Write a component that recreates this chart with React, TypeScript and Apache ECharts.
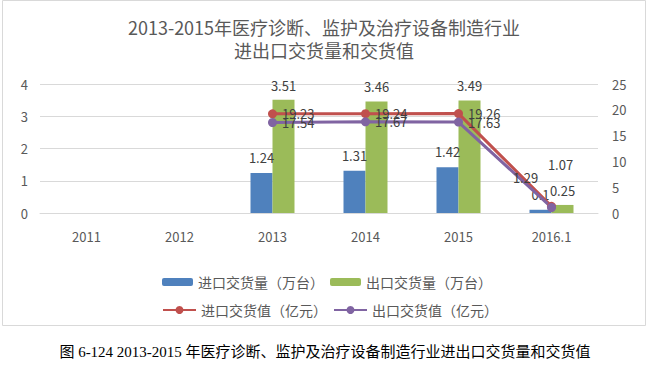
import React, { useEffect, useRef } from "react";
import * as echarts from "echarts";

const categories = ["2011", "2012", "2013", "2014", "2015", "2016.1"];
const importQty = [null, null, 1.24, 1.31, 1.42, 0.1];
const exportQty = [null, null, 3.51, 3.46, 3.49, 0.25];
const importVal = [null, null, 19.23, 19.24, 19.26, 1.29];
const exportVal = [null, null, 17.54, 17.67, 17.63, 1.07];
const leftTicks = { min: 0, max: 4, interval: 1 };
const rightTicks = { min: 0, max: 25, interval: 5 };

const titleLines = ["2013-2015年医疗诊断、监护及治疗设备制造行业", "进出口交货量和交货值"];
const captionText = "图 6-124 2013-2015 年医疗诊断、监护及治疗设备制造行业进出口交货量和交货值";
const names = ["进口交货量（万台）", "出口交货量（万台）", "进口交货值（亿元）", "出口交货值（亿元）"];

const FONT = "'Noto Sans CJK SC', 'Noto Sans', sans-serif";
const labelStyle = { color: "#404040", fontSize: 13, fontFamily: FONT };

export default function App() {
  const ref = useRef<HTMLDivElement>(null);
  useEffect(() => {
    document.body.style.margin = "0";
    const chart = echarts.init(ref.current!, null, { renderer: "svg" });
    const lastIdx = categories.length - 1;
    const lineData = (arr: (number | null)[], offset: number[]) =>
      arr.map((v, i) =>
        i === lastIdx
          ? { value: v, label: { position: "top", offset } }
          : v
      );
    chart.setOption({
      animation: false,
      backgroundColor: "#fff",
      graphic: [
        {
          type: "rect",
          shape: { x: 2.5, y: 0.5, width: 643, height: 325 },
          style: { fill: "none", stroke: "#d9d9d9", lineWidth: 1 },
          silent: true,
        },
        ...titleLines.map((t, i) => ({
          type: "text",
          x: 324,
          y: 27 + i * 23,
          style: {
            text: t,
            fill: "#595959",
            fontSize: 18,
            fontFamily: FONT,
            align: "center",
            verticalAlign: "middle",
          },
        })),
        {
          type: "text",
          x: 325,
          y: 352,
          style: {
            text: captionText,
            fill: "#000",
            fontSize: 15,
            fontFamily: "'Liberation Serif', 'Noto Sans CJK SC', serif",
            align: "center",
            verticalAlign: "middle",
          },
        },
      ],
      legend: [
        {
          data: [names[0], names[1]],
          left: 157,
          top: 270,
          itemGap: 6,
          itemWidth: 31,
          itemHeight: 8,
          textStyle: { color: "#595959", fontSize: 14, fontFamily: FONT },
        },
        {
          data: [names[2], names[3]],
          left: 157,
          top: 298,
          itemGap: 6,
          itemWidth: 33,
          itemHeight: 10,
          textStyle: { color: "#595959", fontSize: 14, fontFamily: FONT },
        },
      ],
      grid: { left: 40, right: 51, top: 84, bottom: 152 },
      xAxis: {
        type: "category",
        data: categories,
        axisLine: { lineStyle: { color: "#d9d9d9" } },
        axisTick: { show: false },
        axisLabel: { color: "#595959", fontSize: 13, margin: 17, fontFamily: FONT },
      },
      yAxis: [
        {
          type: "value",
          ...leftTicks,
          axisLine: { show: false },
          axisTick: { show: false },
          splitLine: { lineStyle: { color: "#d9d9d9" } },
          axisLabel: { color: "#595959", fontSize: 13, margin: 12, fontFamily: FONT },
        },
        {
          type: "value",
          ...rightTicks,
          axisLine: { show: false },
          axisTick: { show: false },
          splitLine: { show: false },
          axisLabel: { color: "#595959", fontSize: 13, margin: 14, fontFamily: FONT },
        },
      ],
      series: [
        {
          name: names[0],
          type: "bar",
          data: importQty,
          barWidth: 22,
          barGap: "0%",
          itemStyle: { color: "#4f81bd" },
          label: { show: true, position: "top", distance: 9, ...labelStyle },
        },
        {
          name: names[1],
          type: "bar",
          data: exportQty,
          barWidth: 22,
          barGap: "0%",
          itemStyle: { color: "#9bbb59" },
          label: { show: true, position: "top", distance: 8, ...labelStyle },
        },
        {
          name: names[2],
          type: "line",
          yAxisIndex: 1,
          data: lineData(importVal, [-26, -13]),
          symbol: "circle",
          symbolSize: 9,
          lineStyle: { color: "#c0504d", width: 3 },
          itemStyle: { color: "#c0504d" },
          label: { show: true, position: "right", distance: 5, ...labelStyle },
        },
        {
          name: names[3],
          type: "line",
          yAxisIndex: 1,
          data: lineData(exportVal, [9, -27]),
          symbol: "circle",
          symbolSize: 9,
          lineStyle: { color: "#8064a2", width: 3 },
          itemStyle: { color: "#8064a2" },
          label: { show: true, position: "right", distance: 5, ...labelStyle },
        },
      ],
    });
    return () => chart.dispose();
  }, []);
  return <div ref={ref} style={{ width: 649, height: 365 }} />;
}
